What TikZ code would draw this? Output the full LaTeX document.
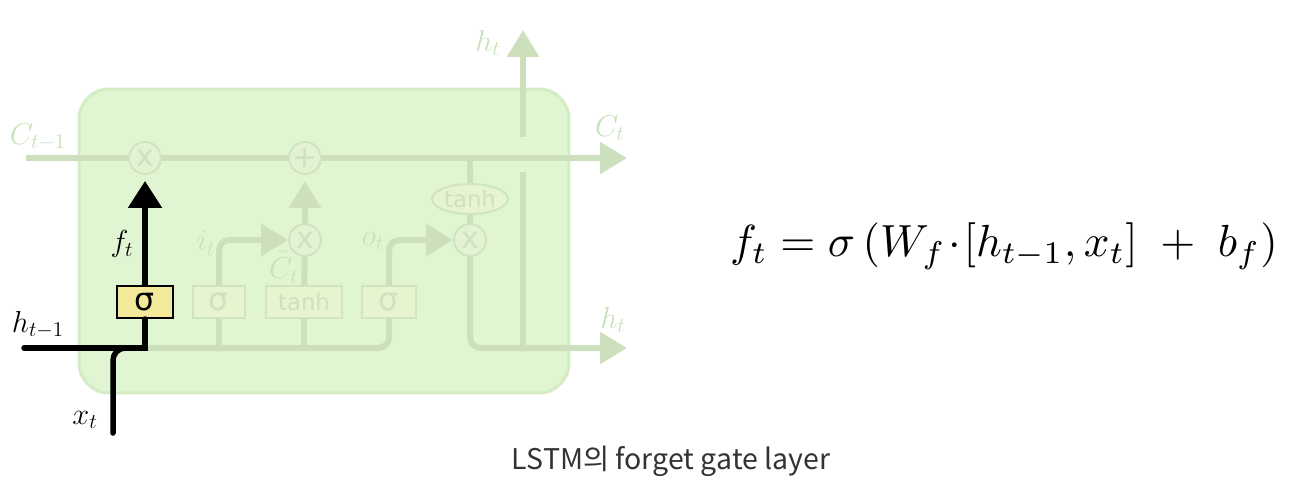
\documentclass[tikz,border=0pt]{standalone}
\usepackage{fontspec}
\newfontfamily\gatefont{DejaVu Sans}
\newfontfamily\capfont{Noto Sans CJK KR}
\usetikzlibrary{arrows.meta,shapes.geometric}

\definecolor{cellfill}{RGB}{224,246,210}
\definecolor{celledge}{RGB}{212,236,196}
\definecolor{faint}{RGB}{204,224,190}
\definecolor{faintlbl}{RGB}{200,226,184}
\definecolor{gatefill}{RGB}{230,244,208}
\definecolor{gateedge}{RGB}{208,228,192}
\definecolor{gatetext}{RGB}{206,226,190}
\definecolor{opfill}{RGB}{226,242,210}
\definecolor{sigyellow}{RGB}{243,233,154}
\definecolor{captext}{RGB}{51,51,51}

\begin{document}
\begin{tikzpicture}[
	x=0.02cm, y=-0.02cm,
	cellbox/.style={
		draw=celledge, fill=cellfill, line width=0.06cm,
		rounded corners=0.6cm, minimum width=9.8cm, minimum height=6.08cm
	},
	fline/.style={draw=faint, line width=0.12cm},
	farr/.style={fline, -{Triangle[length=0.54cm, width=0.62cm]}},
	bline/.style={draw=black, line width=0.11cm},
	barr/.style={bline, -{Triangle[length=0.54cm, width=0.66cm]}},
	gate/.style={
		draw=gateedge, fill=gatefill, line width=0.04cm,
		minimum height=0.64cm, inner sep=0pt, text=gatetext,
		font=\gatefont\fontsize{18}{18}\selectfont
	},
	tanhfont/.style={font=\gatefont\fontsize{13}{13}\selectfont},
	op/.style={
		circle, draw=gateedge, fill=opfill, line width=0.04cm,
		minimum size=0.64cm, inner sep=0pt, text=gatetext,
		font=\gatefont\fontsize{17}{17}\selectfont
	},
	lbl/.style={inner sep=0pt, text=faintlbl, font=\fontsize{17.28}{20}\selectfont},
	]
	\useasboundingbox (0,0) rectangle (1294,486);
	\node[cellbox] (cell) at (324,241) {};

	% gates and pointwise ops
	\node[op] (mulf) at (145,158) {x};
	\node[op] (addc) at (305,158) {+};
	\node[op] (muli) at (305,240) {x};
	\node[op] (mulo) at (470,240) {x};
	\node[ellipse, draw=gateedge, fill=gatefill, line width=0.04cm, inner sep=0pt,
		minimum width=1.52cm, minimum height=0.6cm, text=gatetext, tanhfont] (tnh) at (470,199) {tanh};
	\node[gate, fill=sigyellow, draw=black, text=black, minimum width=1.12cm] (sigf) at (145,302) {σ};
	\node[gate, minimum width=1.04cm] (sigi) at (219,302) {σ};
	\node[gate, tanhfont, minimum width=1.52cm] (tanhc) at (304,302) {tanh};
	\node[gate, minimum width=1.08cm] (sigo) at (389,302) {σ};

	\coordinate (cin)  at (26,158);
	\coordinate (cout) at (627,158);
	\coordinate (ctap) at (470,158);
	\coordinate (hin)  at (24,348);
	\coordinate (xin)  at (113,433);
	\coordinate (fjoin) at (145,348);
	\coordinate (hout) at (627,348);
	\coordinate (hsplit) at (523,348);
	\coordinate (hgapbot) at (523,172);
	\coordinate (hgaptop) at (523,137);
	\coordinate (htop) at (523,30);

	% faded cell paths
	\draw[farr] (cin) -- (mulf) -- (addc) -- (cout);
	\draw[fline, rounded corners=6pt] (fjoin) -- (sigo.south |- fjoin) -- (sigo.south);
	\draw[fline] (sigi.south) -- (sigi.south |- fjoin);
	\draw[fline] (tanhc.south) -- (tanhc.south |- fjoin);
	\draw[farr, rounded corners=6pt] (sigi.north) |- (muli);
	\draw[farr, rounded corners=6pt] (sigo.north) |- (mulo);
	\draw[fline] (tanhc) -- (muli);
	\draw[farr, shorten >=0.12cm] (muli) -- (addc);
	\draw[fline] (ctap) -- (tnh);
	\draw[fline] (tnh) -- (mulo);
	\draw[farr, rounded corners=6pt] (mulo) |- (hout);
	\draw[fline] (hsplit) -- (hgapbot);
	\draw[farr] (hgaptop) -- (htop);

	% forget gate path
	\draw[bline, line cap=round] (hin) -- (fjoin) -- (sigf);
	\draw[bline, line cap=round, rounded corners=7pt] (xin) |- (fjoin);
	\draw[barr, shorten >=0.12cm] (sigf) -- (mulf);

	% labels
	\node[lbl] (lcin) at (38,137) {$C_{t-1}$};
	\node[lbl] (lcout) at (610,128) {$C_t$};
	\node[lbl] (lhtop) at (488,43) {$h_t$};
	\node[lbl] (lhout) at (613,320) {$h_t$};
	\node[lbl] (lit) at (206,243) {$i_t$};
	\node[lbl] (lct) at (284,267) {$\tilde{C}_t$};
	\node[lbl] (lot) at (373,241) {$o_t$};
	\node[lbl, text=black] (lft) at (122,244) {$f_t$};
	\node[lbl, text=black] (lhin) at (38,325) {$h_{t-1}$};
	\node[lbl, text=black] (lxin) at (85,420) {$x_t$};

	\node[inner sep=0pt] (eqn) at (1004,246)
	{\resizebox{10.96cm}{!}{$f_t = \sigma\left(W_f\!\cdot\![h_{t-1}, x_t]\;+\;b_f\right)$}};
	\node[inner sep=0pt, anchor=base, text=captext, font=\capfont\fontsize{16.2}{18}\selectfont] (cap)
	at (671,469) {LSTM의 forget gate layer};
\end{tikzpicture}
\end{document}
